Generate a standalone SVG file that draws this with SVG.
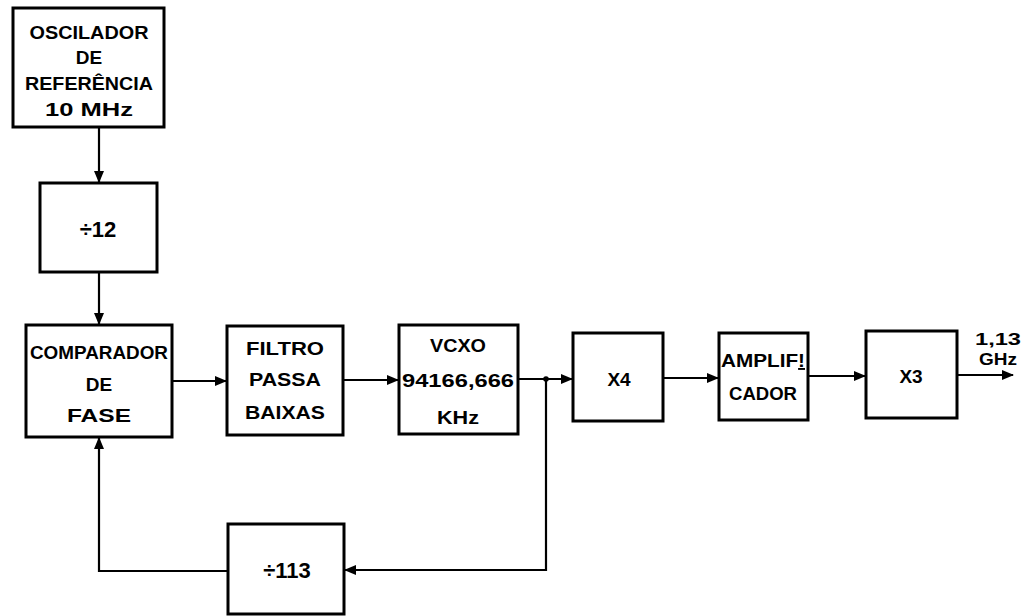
<svg xmlns="http://www.w3.org/2000/svg" width="1031" height="616" viewBox="0 0 1031 616">
<style>
.box{fill:#fff;stroke:#000;stroke-width:3}
.ln{fill:none;stroke:#000;stroke-width:2.2}
text{font-family:"Liberation Sans",Arial,sans-serif;font-weight:bold;font-size:19px;fill:#000;text-anchor:middle}
.big{font-size:22px}
.out{font-size:17px}
</style>
<defs>
<marker id="ah" markerWidth="12" markerHeight="10" refX="11" refY="5" orient="auto" markerUnits="userSpaceOnUse">
<path d="M0,0 L12,5 L0,10 Z" fill="#000"/>
</marker>
</defs>
<rect width="1031" height="616" fill="#fff"/>
<g id="connectors">
<line class="ln" x1="99" y1="127" x2="99" y2="182" marker-end="url(#ah)"/>
<line class="ln" x1="99" y1="272" x2="99" y2="324" marker-end="url(#ah)"/>
<line class="ln" x1="172" y1="381" x2="226" y2="381" marker-end="url(#ah)"/>
<line class="ln" x1="343" y1="380" x2="398" y2="380" marker-end="url(#ah)"/>
<line class="ln" x1="518" y1="379" x2="572" y2="379" marker-end="url(#ah)"/>
<line class="ln" x1="663" y1="378" x2="718" y2="378" marker-end="url(#ah)"/>
<line class="ln" x1="808" y1="376" x2="865" y2="376" marker-end="url(#ah)"/>
<line class="ln" x1="957" y1="375" x2="1013" y2="375" marker-end="url(#ah)"/>
<polyline class="ln" points="546,379 546,570 345,570" marker-end="url(#ah)"/>
<polyline class="ln" points="228,571 99,571 99,438" marker-end="url(#ah)"/>
<circle cx="546" cy="379" r="2.8" fill="#000"/>
</g>
<g id="osc">
<rect class="box" x="13" y="8" width="151" height="119"/>
<text x="89" y="39" textLength="119" lengthAdjust="spacingAndGlyphs">OSCILADOR</text>
<text x="89" y="64">DE</text>
<text x="89" y="90" textLength="128" lengthAdjust="spacingAndGlyphs">REFERÊNCIA</text>
<text x="89" y="116" textLength="88" lengthAdjust="spacingAndGlyphs">10 MHz</text>
</g>
<g id="div12">
<rect class="box" x="40" y="183" width="117" height="89"/>
<text class="big" x="98" y="237">÷12</text>
</g>
<g id="comp">
<rect class="box" x="26" y="325" width="146" height="112"/>
<text x="99" y="359" textLength="138" lengthAdjust="spacingAndGlyphs">COMPARADOR</text>
<text x="99" y="391">DE</text>
<text x="99" y="422" textLength="64" lengthAdjust="spacingAndGlyphs">FASE</text>
</g>
<g id="filtro">
<rect class="box" x="227" y="326" width="116" height="109"/>
<text x="285" y="355" textLength="78" lengthAdjust="spacingAndGlyphs">FILTRO</text>
<text x="285" y="386" textLength="72" lengthAdjust="spacingAndGlyphs">PASSA</text>
<text x="285" y="419" textLength="80" lengthAdjust="spacingAndGlyphs">BAIXAS</text>
</g>
<g id="vcxo">
<rect class="box" x="399" y="325" width="119" height="109"/>
<text x="458" y="352" textLength="56" lengthAdjust="spacingAndGlyphs">VCXO</text>
<text x="458" y="387" textLength="112" lengthAdjust="spacingAndGlyphs">94166,666</text>
<text x="458" y="424" textLength="42" lengthAdjust="spacingAndGlyphs">KHz</text>
</g>
<g id="x4">
<rect class="box" x="573" y="333" width="90" height="88"/>
<text x="619" y="386">X4</text>
</g>
<g id="amp">
<rect class="box" x="719" y="333" width="89" height="87"/>
<text x="763" y="367" textLength="84" lengthAdjust="spacingAndGlyphs">AMPLIF<tspan text-decoration="underline">!</tspan></text>
<text x="763" y="400" textLength="68" lengthAdjust="spacingAndGlyphs">CADOR</text>
</g>
<g id="x3">
<rect class="box" x="866" y="331" width="91" height="87"/>
<text x="911" y="383">X3</text>
</g>
<g id="out">
<text class="out" x="998" y="345" textLength="46" lengthAdjust="spacingAndGlyphs">1,13</text>
<text class="out" x="998" y="365" textLength="38" lengthAdjust="spacingAndGlyphs">GHz</text>
</g>
<g id="div113">
<rect class="box" x="228" y="524" width="116" height="90"/>
<text class="big" x="287" y="578">÷113</text>
</g>
</svg>
